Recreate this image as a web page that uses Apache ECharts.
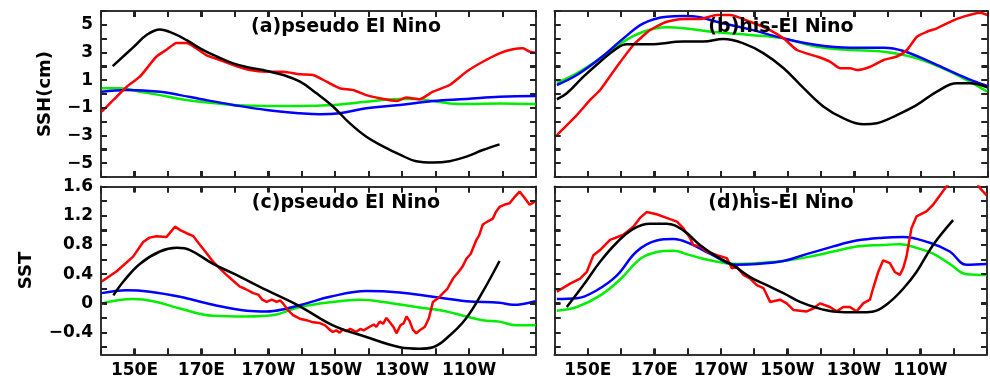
<!DOCTYPE html>
<html><head><meta charset="utf-8">
<script src="https://cdn.jsdelivr.net/npm/echarts@6/dist/echarts.min.js"></script>
<style>html,body{margin:0;padding:0;background:#fff}#c{width:990px;height:380px}</style>
</head><body><div id="c"></div>
<script>
// ---- tick labels / tick positions ----
const xTickLons = [140, 150, 160, 170, 180, 190, 200, 210, 220, 230, 240, 250, 260, 270];
const xLabelLons = [150, 170, 190, 210, 230, 250];
const xTickLabels = ['150E', '170E', '170W', '150W', '130W', '110W'];
const sshTickValues = [-6, -5, -4, -3, -2, -1, 0, 1, 2, 3, 4, 5, 6];
const sshLabelValues = [-5, -3, -1, 1, 3, 5];
const sstLabelValues = [-0.4, 0, 0.4, 0.8, 1.2, 1.6];
const sstTickValues = [-0.6, -0.4, -0.2, 0, 0.2, 0.4, 0.6, 0.8, 1.0, 1.2, 1.4, 1.6];
const panelTitles = ['(a)pseudo El Nino', '(b)his-El Nino', '(c)pseudo El Nino', '(d)his-El Nino'];

// ---- (a) SSH pseudo El Nino : [longitude (deg E), value] ----
const sshPseudoBlack = [[143.5,2.02],[149.7,3.39],[153.7,4.28],[157.6,4.67],[161.6,4.38],[165.6,3.89],[169.6,3.3],[174.6,2.71],[179.5,2.21],[184.5,1.9],[189.5,1.67],[194.5,1.37],[199.5,0.89],[204.4,0.05],[209.4,-0.92],[214.3,-2.11],[219.3,-3.09],[224.3,-3.78],[229.2,-4.37],[234.2,-4.86],[239.2,-4.96],[244.2,-4.86],[249.2,-4.53],[254.1,-4.05],[259.1,-3.64]];
const sshPseudoRed = [[140.2,-1.28],[143.7,-0.43],[147.7,0.52],[151.6,1.25],[154.1,1.98],[156.6,2.71],[159.6,3.2],[162.6,3.69],[165.6,3.69],[167.6,3.44],[171.6,2.8],[175.5,2.46],[179.5,2.1],[184.5,1.73],[189.5,1.61],[194.5,1.61],[199.4,1.42],[203.4,1.37],[207.4,0.89],[211.3,0.42],[215.3,0.29],[219.3,-0.08],[223.3,-0.31],[228.3,-0.51],[231.2,-0.26],[235.2,-0.38],[239.2,0.17],[244.2,0.65],[249.2,1.61],[254.1,2.33],[259.1,2.94],[263.1,3.23],[266.1,3.3],[268.1,3.06],[269.9,2.98]];
const sshPseudoGreen = [[140.2,0.42],[145.7,0.42],[151.6,0.17],[157.6,-0.08],[163.6,-0.36],[169.6,-0.56],[179.5,-0.79],[189.5,-0.87],[199.4,-0.87],[209.4,-0.79],[219.3,-0.56],[229.3,-0.36],[234.2,-0.36],[239.2,-0.51],[244.2,-0.68],[249.2,-0.73],[259.1,-0.68],[269.9,-0.73]];
const sshPseudoBlue = [[140.2,0.17],[147.7,0.29],[157.6,0.17],[163.6,-0.08],[169.6,-0.36],[179.5,-0.79],[189.5,-1.16],[199.4,-1.39],[205.4,-1.47],[211.3,-1.39],[219.3,-1.03],[229.3,-0.79],[239.2,-0.51],[249.2,-0.36],[259.1,-0.19],[269.9,-0.15]];

// ---- (b) SSH his-El Nino ----
const sshHisBlack = [[140.7,-0.38],[143.7,0.05],[148.7,1.25],[153.7,2.33],[158.7,3.3],[161.7,3.59],[168.7,3.59],[178.7,3.79],[184.7,3.79],[190.7,3.97],[196.7,3.66],[202.8,2.94],[208.8,1.86],[214.8,0.42],[220.8,-0.92],[226.8,-1.76],[232.8,-2.19],[236.8,-2.11],[242.8,-1.52],[248.8,-0.79],[254.8,0.17],[260.8,0.77],[264.8,0.77],[269.9,0.48]];
const sshHisRed = [[140.7,-2.97],[146.7,-1.52],[150.7,-0.43],[153.7,0.29],[158.7,1.97],[163.7,3.54],[168.7,4.62],[173.7,5.22],[178.7,5.42],[183.7,5.42],[188.7,5.71],[192.7,5.71],[198.7,5.22],[203.7,4.75],[208.8,4.02],[212.8,3.18],[218.8,2.71],[222.8,2.33],[225.8,1.86],[228.8,1.86],[230.8,1.73],[234.8,1.97],[238.8,2.46],[242.8,2.71],[245.8,3.18],[248.8,4.14],[251.8,4.5],[254.8,4.75],[258.8,5.22],[262.8,5.59],[267.8,5.87],[269.9,5.71]];
const sshHisGreen = [[140.7,0.82],[146.7,1.5],[153.7,2.58],[160.7,3.79],[166.7,4.5],[173.7,4.82],[178.7,4.75],[188.7,4.46],[198.7,4.27],[208.8,4.02],[218.8,3.42],[228.8,3.18],[238.8,3.06],[248.8,2.58],[258.8,1.61],[269.9,0.17]];
const sshHisBlue = [[140.7,0.65],[146.7,1.37],[153.7,2.58],[160.7,4.02],[166.7,5.11],[173.7,5.59],[178.7,5.63],[183.7,5.55],[188.7,5.22],[198.7,4.67],[208.8,4.02],[218.8,3.54],[228.8,3.35],[238.8,3.35],[244.8,3.11],[253.8,2.21],[263.8,1.13],[269.9,0.58]];

// ---- (c) SST pseudo El Nino ----
const sstPseudoRed = [[140.2,0.3],[144.7,0.44],[149.6,0.64],[152.6,0.84],[154.5,0.9],[156.6,0.92],[159.6,0.91],[162.1,1.05],[163.8,1.0],[165.6,0.96],[167.6,0.92],[169.6,0.8],[171.5,0.69],[173.5,0.57],[175,0.5],[177.5,0.39],[179,0.33],[181.5,0.23],[183,0.2],[185.5,0.14],[187,0.12],[188.2,0.05],[189.5,0.02],[191,0.05],[192.5,0.02],[193.5,0.04],[194.4,0.0],[196,-0.1],[197.4,-0.16],[199.4,-0.21],[201.4,-0.23],[203.4,-0.26],[205.4,-0.27],[207,-0.3],[208.3,-0.36],[209.3,-0.39],[210.3,-0.37],[211.3,-0.4],[212.3,-0.36],[213.3,-0.38],[214.5,-0.35],[216.3,-0.39],[217.5,-0.35],[218.5,-0.37],[220.3,-0.32],[221.5,-0.29],[222.3,-0.32],[223.3,-0.25],[224.3,-0.28],[225.3,-0.2],[226.5,-0.27],[227.5,-0.33],[228.3,-0.41],[229.5,-0.3],[230.5,-0.27],[231.3,-0.18],[232.2,-0.24],[233.2,-0.36],[234.2,-0.41],[235.5,-0.36],[236.8,-0.32],[238,-0.2],[239.2,0.02],[241,0.08],[242.2,0.14],[243.5,0.2],[245.2,0.34],[247,0.44],[248,0.5],[249.2,0.61],[250.5,0.68],[252.2,0.87],[253,0.93],[254.1,1.08],[255.5,1.12],[257.1,1.16],[258,1.25],[259.1,1.32],[260.5,1.35],[262.1,1.37],[263.5,1.45],[265.1,1.53],[266.5,1.45],[268.1,1.35],[269.9,1.4]];
const sstPseudoBlack = [[143.7,0.11],[146.7,0.3],[151.6,0.54],[157.6,0.71],[162.6,0.76],[166.6,0.73],[173.5,0.54],[179.5,0.41],[189.5,0.18],[199.4,-0.04],[209.3,-0.3],[219.3,-0.46],[229.3,-0.6],[235.2,-0.62],[239.2,-0.6],[244.2,-0.44],[249.2,-0.2],[254.1,0.16],[259.1,0.58]];
const sstPseudoBlue = [[140.2,0.14],[147.7,0.18],[154.6,0.16],[163.6,0.09],[173.5,-0.02],[183.5,-0.1],[189.5,-0.11],[195.5,-0.07],[201.4,0.0],[208.4,0.09],[219.3,0.17],[229.3,0.15],[239.2,0.09],[249.2,0.03],[259.1,0.01],[263.1,-0.02],[269.9,0.03]];
const sstPseudoGreen = [[140.2,0.0],[149.6,0.06],[155.6,0.03],[163.6,-0.07],[173.5,-0.17],[183.5,-0.18],[191.5,-0.16],[199.4,-0.05],[209.3,0.02],[217.3,0.05],[224.3,0.02],[234.2,-0.05],[242.2,-0.1],[249.2,-0.18],[254.1,-0.23],[259.1,-0.25],[264.1,-0.3],[269.9,-0.3]];

// ---- (d) SST his-El Nino ----
const sstHisRed = [[140.7,0.16],[144.7,0.27],[147.7,0.34],[149.7,0.43],[151.7,0.66],[153.7,0.73],[156.7,0.87],[160.7,0.94],[163.7,1.05],[165.7,1.17],[167.7,1.25],[170.7,1.22],[173.7,1.17],[176.8,1.12],[178.7,1.03],[180.8,0.89],[181.7,0.8],[183.8,0.78],[185.8,0.71],[188.8,0.66],[191.8,0.62],[193.3,0.48],[194.8,0.5],[196.8,0.39],[198.8,0.34],[200.8,0.25],[202.8,0.21],[204.8,0.02],[207.8,0.05],[209.8,0.0],[211.8,-0.09],[215.8,-0.11],[217.8,-0.07],[219.8,0.0],[222.8,-0.05],[224.8,-0.11],[226.8,-0.05],[228.8,-0.05],[230.8,-0.11],[232.8,0.0],[234.8,0.05],[235.8,0.21],[237.3,0.43],[238.8,0.59],[240.8,0.55],[242.3,0.43],[243.8,0.39],[244.8,0.48],[245.8,0.64],[247.3,1.03],[248.8,1.19],[251.8,1.26],[253.8,1.35],[257.8,1.6],[262,1.85],[265,1.8],[267.8,1.58],[269.9,1.48]];
const sstHisBlack = [[143.7,-0.05],[148.7,0.25],[153.7,0.57],[158.7,0.83],[163.7,1.02],[168.7,1.09],[173.7,1.09],[178.7,1.0],[183.7,0.8],[188.8,0.64],[193.7,0.52],[198.8,0.36],[203.8,0.25],[208.8,0.14],[213.8,0.02],[218.8,-0.06],[223.8,-0.11],[228.8,-0.12],[233.8,-0.12],[236.8,-0.1],[240.8,0.02],[244.8,0.2],[248.8,0.43],[253.8,0.8],[259.8,1.14]];
const sstHisBlue = [[140.7,0.06],[146.7,0.07],[152.7,0.18],[158.7,0.38],[164.7,0.71],[170.7,0.86],[175.7,0.88],[180.7,0.82],[186.7,0.68],[194.8,0.53],[200.8,0.54],[208.8,0.58],[214.8,0.66],[223.8,0.78],[230.8,0.86],[238.8,0.9],[244.8,0.91],[252.8,0.83],[258.8,0.71],[263.8,0.53],[269.9,0.54]];
const sstHisGreen = [[140.7,-0.1],[146.7,-0.05],[153.8,0.11],[159.8,0.33],[165.8,0.61],[170.5,0.7],[175.7,0.72],[180.7,0.66],[186.7,0.59],[194.8,0.54],[203.8,0.56],[208.8,0.58],[216.8,0.64],[223.8,0.71],[230.8,0.78],[238.8,0.8],[243.8,0.81],[248.8,0.76],[253.8,0.68],[258.8,0.54],[263.8,0.4],[269.9,0.39]];

// ---- build chart ----
const FONT = 'DejaVu Sans';
const AXC = '#222';
const TICK_LEN = 6;
const COLORS = {green: '#00ee00', blue: '#0000ff', red: '#ff0000', black: '#000000'};
const LON_MIN = 140, LON_MAX = 270;
const panels = [
  {grid: {left: 101, top: 11, width: 435, height: 166}, kind: 'ssh', xl: false, yl: true, name: 'SSH(cm)', nameGap: 47,
   s: {green: sshPseudoGreen, blue: sshPseudoBlue, red: sshPseudoRed, black: sshPseudoBlack}, tx: 346, ty: 27},
  {grid: {left: 554.5, top: 11, width: 433, height: 166}, kind: 'ssh', xl: false, yl: false,
   s: {green: sshHisGreen, blue: sshHisBlue, red: sshHisRed, black: sshHisBlack}, tx: 781, ty: 27},
  {grid: {left: 101, top: 186.5, width: 435, height: 168}, kind: 'sst', xl: true, yl: true, name: 'SST', nameGap: 66,
   s: {green: sstPseudoGreen, blue: sstPseudoBlue, red: sstPseudoRed, black: sstPseudoBlack}, tx: 346, ty: 203},
  {grid: {left: 554.5, top: 186.5, width: 433, height: 168}, kind: 'sst', xl: true, yl: false,
   s: {green: sstHisGreen, blue: sstHisBlue, red: sstHisRed, black: sstHisBlack}, tx: 781, ty: 203}
];
const minus = v => (v < 0 ? '\u2212' : '') + Math.abs(v);
const labelStyle = {color: '#000', fontFamily: FONT, fontWeight: 'bold', fontSize: 17, margin: 8};
const axLine = () => ({show: true, onZero: false, lineStyle: {color: '#333', width: 2}});
const nativeTick = () => ({show: true, inside: true, length: TICK_LEN, lineStyle: {color: AXC, width: 2}});

const grid = [], xAxis = [], yAxis = [], series = [], graphic = [];
panels.forEach((p, i) => {
  grid.push(Object.assign({containLabel: false}, p.grid));
  const yr = p.kind === 'ssh' ? {min: -6, max: 6} : {min: -0.7, max: 1.6};
  const yTicks = p.kind === 'ssh' ? sshTickValues : sstTickValues;
  ['bottom', 'top'].forEach(pos => {
    xAxis.push({
      gridIndex: i, type: 'value', position: pos, min: LON_MIN, max: LON_MAX, interval: 10,
      axisLine: axLine(), axisTick: nativeTick(), splitLine: {show: false},
      axisLabel: Object.assign({}, labelStyle, {
        show: pos === 'bottom' && p.xl, showMinLabel: true, showMaxLabel: true,
        formatter: v => { const k = xLabelLons.indexOf(v); return k >= 0 ? xTickLabels[k] : ''; }
      })
    });
  });
  ['left', 'right'].forEach(pos => {
    const ax = {
      gridIndex: i, type: 'value', position: pos, min: yr.min, max: yr.max,
      axisLine: axLine(), splitLine: {show: false},
      name: (pos === 'left' && p.name) ? p.name : '',
      nameLocation: 'middle', nameRotate: 90, nameGap: p.nameGap || 0,
      nameTextStyle: {color: '#000', fontFamily: FONT, fontWeight: 'bold', fontSize: 18}
    };
    if (p.kind === 'ssh') {
      Object.assign(ax, {interval: 1, axisTick: nativeTick(),
        axisLabel: Object.assign({}, labelStyle, {show: pos === 'left' && p.yl,
          formatter: v => sshLabelValues.indexOf(v) >= 0 ? minus(v) : ''})});
    } else {
      Object.assign(ax, {axisTick: Object.assign(nativeTick(), {customValues: sstTickValues}),
        axisLabel: Object.assign({}, labelStyle, {show: pos === 'left' && p.yl, customValues: sstLabelValues,
          formatter: v => v === 0 ? '0' : (v < 0 ? '\u2212' : '') + Math.abs(v).toFixed(1)})});
    }
    yAxis.push(ax);
  });
  ['green', 'blue', 'red', 'black'].forEach(c => {
    series.push({
      type: 'line', xAxisIndex: i * 2, yAxisIndex: i * 2, data: p.s[c],
      showSymbol: false, symbol: 'none', clip: true, silent: true,
      smooth: c === 'red' ? (p.kind === 'ssh' ? 0.2 : false) : 0.4,
      lineStyle: {color: COLORS[c], width: 2.5}, z: 2
    });
  });
  // inward tick marks on all four frame sides, positioned through the axis scales
  const tickData = [];
  xTickLons.forEach(l => { tickData.push([l, yr.min, 0, -1]); tickData.push([l, yr.max, 0, 1]); });
  yTicks.forEach(v => { tickData.push([LON_MIN, v, 1, 0]); tickData.push([LON_MAX, v, -1, 0]); });
  series.push({
    type: 'custom', xAxisIndex: i * 2, yAxisIndex: i * 2, data: tickData, silent: true, clip: false, z: 10,
    renderItem: (params, api) => {
      const pt = api.coord([api.value(0), api.value(1)]);
      const dx = api.value(2), dy = api.value(3);
      let shape;
      if (dx === 0) shape = {x: Math.round(pt[0]) - 1, y: dy < 0 ? pt[1] - TICK_LEN : pt[1], width: 2, height: TICK_LEN};
      else shape = {x: dx > 0 ? pt[0] : pt[0] - TICK_LEN, y: Math.round(pt[1]) - 1, width: TICK_LEN, height: 2};
      return {type: 'rect', shape: shape, style: {fill: AXC}};
    }
  });
  graphic.push({type: 'text', x: p.tx, y: p.ty, z: 100,
    style: {text: panelTitles[i], fill: '#000', font: 'bold 19px "' + FONT + '"', align: 'center', verticalAlign: 'middle'}});
});

const chart = echarts.init(document.getElementById('c'), null, {renderer: 'canvas'});
chart.setOption({animation: false, backgroundColor: '#fff', grid, xAxis, yAxis, series, graphic});
</script></body></html>
